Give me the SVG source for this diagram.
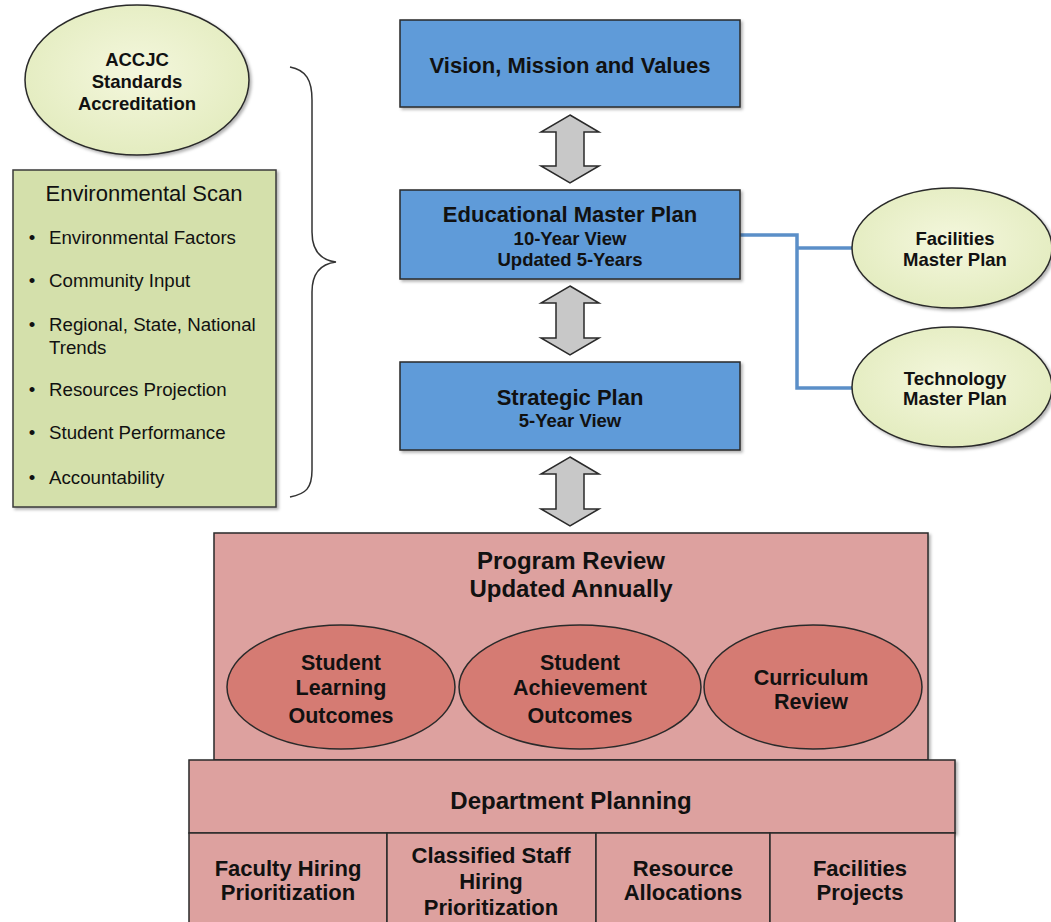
<svg xmlns="http://www.w3.org/2000/svg" width="1051" height="922" viewBox="0 0 1051 922">
<defs>
<filter id="sh" x="-10%" y="-10%" width="130%" height="130%">
<feDropShadow dx="2" dy="2" stdDeviation="1.5" flood-color="#000" flood-opacity="0.3"/>
</filter>
<radialGradient id="gg" cx="50%" cy="45%" r="60%">
<stop offset="0" stop-color="#f4f7dd"/>
<stop offset="1" stop-color="#e2ebbd"/>
</radialGradient>
</defs>
<style>
.blue{fill:#5f9bd9;stroke:#2a2a2a;stroke-width:1.5}
.green{fill:url(#gg);stroke:#2a2a2a;stroke-width:1.5}
.scan{fill:#d4e0ab;stroke:#3a3a3a;stroke-width:1.5}
.pink{fill:#dda19f;stroke:#2a2a2a;stroke-width:1.5}
.rose{fill:#d57b73;stroke:#2a2a2a;stroke-width:1.5}
.arr{fill:#c8c8c8;stroke:#2a2a2a;stroke-width:1.5}
.conn{fill:none;stroke:#5b8fc8;stroke-width:3.5}
.brace{fill:none;stroke:#333;stroke-width:1.5}
text{font-family:"Liberation Sans",Arial,sans-serif;fill:#111;text-anchor:middle}
.b{font-weight:bold}
.t22{font-size:22px}
.t185{font-size:18.5px}
.t215{font-size:21.5px}
.t24{font-size:24px}
.r18{font-size:18.7px;text-anchor:start}
.bul{font-size:18.7px;text-anchor:middle}
</style>

<g id="connectors">
<path class="conn" d="M740,235 H797 V388 H852"/>
<path class="conn" d="M797,248 H852"/>
<polygon class="arr" points="570,115 599,132 584,132 584,166 599,166 570,183 541,166 556,166 556,132 541,132"/>
<polygon class="arr" points="570,286 599,303 584,303 584,338 599,338 570,355 541,338 556,338 556,303 541,303"/>
<polygon class="arr" points="570,457 599,474 584,474 584,509 599,509 570,526 541,509 556,509 556,474 541,474"/>
<path class="brace" d="M290,67 C306,70 312,80 312,100 L312,232 C312,250 320,260 336,262 C320,264 312,274 312,292 L312,470 C312,488 306,494 290,497"/>
</g>

<g id="accjc">
<ellipse class="green" cx="137" cy="80" rx="112" ry="75" filter="url(#sh)"/>
<text class="b t185" x="137" y="66">ACCJC</text>
<text class="b t185" x="137" y="88">Standards</text>
<text class="b t185" x="137" y="110">Accreditation</text>
</g>

<g id="env-scan">
<rect class="scan" x="13" y="170" width="263" height="337" filter="url(#sh)"/>
<text class="t22" x="144" y="201">Environmental Scan</text>
<text class="bul" x="32" y="244">•</text><text class="r18" x="49" y="244">Environmental Factors</text>
<text class="bul" x="32" y="287">•</text><text class="r18" x="49" y="287">Community Input</text>
<text class="bul" x="32" y="331">•</text><text class="r18" x="49" y="331">Regional, State, National</text>
<text class="r18" x="49" y="354">Trends</text>
<text class="bul" x="32" y="396">•</text><text class="r18" x="49" y="396">Resources Projection</text>
<text class="bul" x="32" y="439">•</text><text class="r18" x="49" y="439">Student Performance</text>
<text class="bul" x="32" y="484">•</text><text class="r18" x="49" y="484">Accountability</text>
</g>

<g id="vision">
<rect class="blue" x="400" y="20" width="340" height="87" filter="url(#sh)"/>
<text class="b t22" x="570" y="73">Vision, Mission and Values</text>
</g>

<g id="edu-master">
<rect class="blue" x="400" y="190" width="340" height="89" filter="url(#sh)"/>
<text class="b t22" x="570" y="222">Educational Master Plan</text>
<text class="b t185" x="570" y="245">10-Year View</text>
<text class="b t185" x="570" y="266">Updated 5-Years</text>
</g>

<g id="strategic">
<rect class="blue" x="400" y="362" width="340" height="88" filter="url(#sh)"/>
<text class="b t22" x="570" y="405">Strategic Plan</text>
<text class="b t185" x="570" y="427">5-Year View</text>
</g>

<g id="facilities-master">
<ellipse class="green" cx="952" cy="248" rx="100" ry="60" filter="url(#sh)"/>
<text class="b t185" x="955" y="245">Facilities</text>
<text class="b t185" x="955" y="266">Master Plan</text>
</g>

<g id="technology-master">
<ellipse class="green" cx="952" cy="387" rx="100" ry="60" filter="url(#sh)"/>
<text class="b t185" x="955" y="385">Technology</text>
<text class="b t185" x="955" y="405">Master Plan</text>
</g>

<g id="program-review">
<rect class="pink" x="214" y="533" width="714" height="227" filter="url(#sh)"/>
<text class="b t24" x="571" y="569">Program Review</text>
<text class="b t24" x="571" y="597">Updated Annually</text>
</g>

<g id="slo">
<ellipse class="rose" cx="341" cy="687" rx="114" ry="62"/>
<text class="b t215" x="341" y="670">Student</text>
<text class="b t215" x="341" y="695">Learning</text>
<text class="b t215" x="341" y="723">Outcomes</text>
</g>

<g id="sao">
<ellipse class="rose" cx="580" cy="687" rx="121" ry="62"/>
<text class="b t215" x="580" y="670">Student</text>
<text class="b t215" x="580" y="695">Achievement</text>
<text class="b t215" x="580" y="723">Outcomes</text>
</g>

<g id="curriculum">
<ellipse class="rose" cx="813" cy="687" rx="109" ry="62"/>
<text class="b t215" x="811" y="685">Curriculum</text>
<text class="b t215" x="811" y="709">Review</text>
</g>

<g id="dept-planning">
<rect class="pink" x="189" y="760" width="766" height="73" filter="url(#sh)"/>
<text class="b t24" x="571" y="809">Department Planning</text>
</g>

<g id="faculty-hiring">
<rect class="pink" x="189" y="833" width="198" height="95"/>
<text class="b t22" x="288" y="876">Faculty Hiring</text>
<text class="b t22" x="288" y="900">Prioritization</text>
</g>

<g id="classified-hiring">
<rect class="pink" x="387" y="833" width="209" height="95"/>
<text class="b t22" x="491" y="863">Classified Staff</text>
<text class="b t22" x="491" y="889">Hiring</text>
<text class="b t22" x="491" y="915">Prioritization</text>
</g>

<g id="resource-alloc">
<rect class="pink" x="596" y="833" width="174" height="95"/>
<text class="b t22" x="683" y="876">Resource</text>
<text class="b t22" x="683" y="900">Allocations</text>
</g>

<g id="facilities-projects">
<rect class="pink" x="770" y="833" width="185" height="95"/>
<text class="b t22" x="860" y="876">Facilities</text>
<text class="b t22" x="860" y="900">Projects</text>
</g>
</svg>
